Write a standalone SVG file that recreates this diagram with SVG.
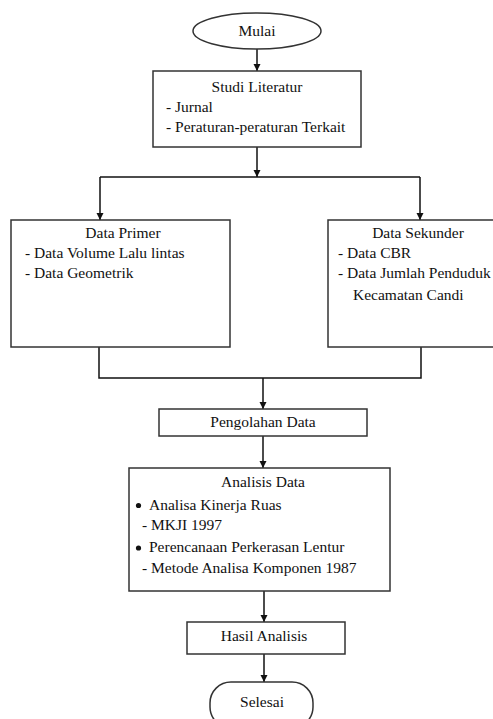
<svg xmlns="http://www.w3.org/2000/svg" width="493" height="719" viewBox="0 0 493 719">
  <style>
    .box { fill: #ffffff; stroke: #333333; stroke-width: 1.5; }
    .txt { font-family: 'Liberation Serif', 'Times New Roman', Times, 'DejaVu Serif', serif; font-size: 15.5px; fill: #111111; }
    .mid { text-anchor: middle; }
    .conn { fill: none; stroke: #111111; stroke-width: 1.5; }
    .arrow { fill: none; stroke: #111111; stroke-width: 1.5; marker-end: url(#ah); }
  </style>
  <defs>
    <marker id="ah" viewBox="0 0 10 10" refX="10" refY="5" markerWidth="7" markerHeight="8" markerUnits="userSpaceOnUse" orient="auto">
      <path d="M0,0 L10,5 L0,10 Z" fill="#111111"/>
    </marker>
  </defs>
  <rect x="0" y="0" width="493" height="719" fill="#ffffff"/>

  <g id="connectors">
    <line class="arrow" x1="257" y1="49" x2="257" y2="71"/>
    <line class="arrow" x1="257" y1="147" x2="257" y2="177"/>
    <polyline class="conn" points="100,177 420,177"/>
    <line class="arrow" x1="100" y1="177" x2="100" y2="220"/>
    <line class="arrow" x1="420" y1="177" x2="420" y2="220"/>
    <polyline class="conn" points="99,347 99,378 421,378 421,347"/>
    <line class="arrow" x1="263" y1="378" x2="263" y2="409"/>
    <line class="arrow" x1="263" y1="436" x2="263" y2="468"/>
    <line class="arrow" x1="264" y1="591" x2="264" y2="622"/>
    <line class="arrow" x1="264" y1="654" x2="264" y2="682"/>
  </g>

  <g id="mulai">
    <ellipse class="box" cx="257" cy="31" rx="64" ry="18"/>
    <text class="txt mid" x="257" y="36" font-family="Liberation Serif, serif">Mulai</text>
  </g>

  <g id="studi-literatur">
    <rect class="box" x="153" y="71" width="208" height="76"/>
    <text class="txt mid" x="257" y="92">Studi Literatur</text>
    <text class="txt" x="166" y="112">- Jurnal</text>
    <text class="txt" x="166" y="132">- Peraturan-peraturan Terkait</text>
  </g>

  <g id="data-primer">
    <rect class="box" x="11" y="220" width="219" height="127"/>
    <text class="txt mid" x="123" y="238">Data Primer</text>
    <text class="txt" x="25" y="258">- Data Volume Lalu lintas</text>
    <text class="txt" x="25" y="278">- Data Geometrik</text>
  </g>

  <g id="data-sekunder">
    <rect class="box" x="328" y="220" width="175" height="127"/>
    <text class="txt mid" x="418" y="238">Data Sekunder</text>
    <text class="txt" x="338" y="258">- Data CBR</text>
    <text class="txt" x="338" y="278">- Data Jumlah Penduduk</text>
    <text class="txt" x="353" y="300">Kecamatan Candi</text>
  </g>

  <g id="pengolahan-data">
    <rect class="box" x="159" y="409" width="208" height="27"/>
    <text class="txt mid" x="263" y="427">Pengolahan Data</text>
  </g>

  <g id="analisis-data">
    <rect class="box" x="129" y="468" width="261" height="123"/>
    <text class="txt mid" x="263" y="487">Analisis Data</text>
    <circle cx="138.5" cy="505.5" r="2.6" fill="#111111"/>
    <text class="txt" x="149" y="510">Analisa Kinerja Ruas</text>
    <text class="txt" x="142" y="530">- MKJI 1997</text>
    <circle cx="138.5" cy="548" r="2.6" fill="#111111"/>
    <text class="txt" x="149" y="552">Perencanaan Perkerasan Lentur</text>
    <text class="txt" x="142" y="573">- Metode Analisa Komponen 1987</text>
  </g>

  <g id="hasil-analisis">
    <rect class="box" x="187" y="622" width="158" height="32"/>
    <text class="txt mid" x="264" y="641">Hasil Analisis</text>
  </g>

  <g id="selesai">
    <rect class="box" x="210" y="682" width="103" height="46" rx="21" ry="21"/>
    <text class="txt mid" x="262" y="707">Selesai</text>
  </g>
</svg>
